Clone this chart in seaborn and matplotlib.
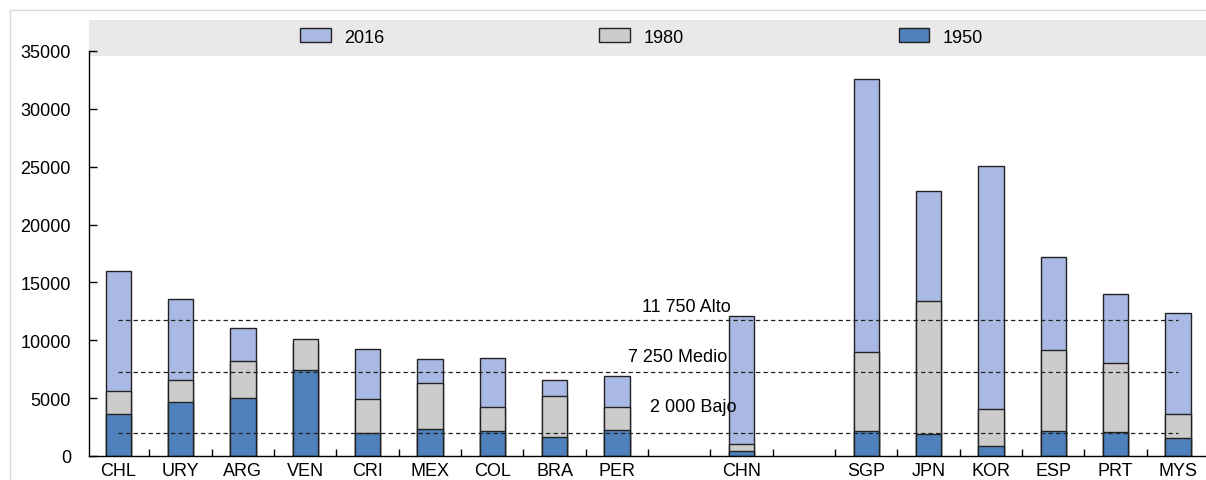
import matplotlib
matplotlib.use("Agg")
import matplotlib.pyplot as plt
import matplotlib.patches as mpatches
import pandas as pd
import seaborn as sns

# categories (empty names are the gaps between groups)
countries = ["CHL", "URY", "ARG", "VEN", "CRI", "MEX", "COL", "BRA", "PER", "",
             "CHN", " ", "SGP", "JPN", "KOR", "ESP", "PRT", "MYS"]
bar_countries = ["CHL", "URY", "ARG", "VEN", "CRI", "MEX", "COL", "BRA", "PER",
                 "CHN", "SGP", "JPN", "KOR", "ESP", "PRT", "MYS"]

# GDP per capita
gdp_2016 = [15950, 13560, 11050, 9800, 9210, 8350, 8460, 6590, 6880,
            12090, 32570, 22900, 25080, 17160, 14020, 12350]
gdp_1980 = [5640, 6540, 8200, 10130, 4900, 6300, 4230, 5180, 4230,
            1010, 8950, 13410, 4090, 9180, 8000, 3650]
gdp_1950 = [3650, 4640, 4980, 7420, 1960, 2330, 2130, 1670, 2270,
            430, 2160, 1900, 840, 2160, 2070, 1530]

thresholds = [11750, 7250, 2000]
threshold_labels = ["11 750 Alto", "7 250 Medio", "2 000 Bajo"]
label_xpos = [9.12, 8.97, 9.23]

years = ["2016", "1980", "1950"]
colors = {"2016": "#a9b9e3", "1980": "#cccccc", "1950": "#4f81bd"}

df = pd.DataFrame({
    "country": bar_countries * 3,
    "year": ["2016"] * 16 + ["1980"] * 16 + ["1950"] * 16,
    "gdp": gdp_2016 + gdp_1980 + gdp_1950,
})

sns.set_style("white")
plt.rcParams["font.family"] = ["Liberation Sans Narrow", "Liberation Sans", "DejaVu Sans"]
plt.rcParams["font.size"] = 13
plt.rcParams["text.color"] = "black"
plt.rcParams["xtick.color"] = "black"
plt.rcParams["ytick.color"] = "black"

fig = plt.figure(figsize=(12.06, 4.81), dpi=100)
ax = fig.add_axes([89 / 1206, 24 / 481, 1117 / 1206, 405 / 481])
ax.patch.set_alpha(0)

# overlapping bars: latest year at the back
for yr in years:
    sns.barplot(data=df[df["year"] == yr], x="country", y="gdp", order=countries,
                color=colors[yr], width=0.41, edgecolor="#222222", linewidth=1,
                saturation=1, ax=ax, zorder=2)

# reference lines
ax.hlines(thresholds, 0, len(countries) - 1, colors="#222222", linewidth=0.9,
          linestyles=(0, (3.5, 2.5)), zorder=4)
offsets = [14, 16, 26]
for t, lab, xp, off in zip(thresholds, threshold_labels, label_xpos, offsets):
    ax.annotate(lab, (xp, t), xytext=(0, off), textcoords="offset pixels",
                ha="center", va="center", fontsize=13, zorder=5)

ax.set_xlim(-0.47, 17.45)
ax.set_ylim(0, 35000)
ax.set_yticks(range(0, 35001, 5000))
ax.set_xlabel("")
ax.set_ylabel("")
ax.set_xticks(range(len(countries)))
ax.set_xticklabels(countries)
ax.set_xticks([i + 0.5 for i in range(len(countries) - 1)], minor=True)
ax.tick_params(axis="x", which="major", length=0, pad=4, labelsize=13)
ax.tick_params(axis="x", which="minor", direction="in", length=5, width=1, color="black", bottom=True)
ax.tick_params(axis="y", direction="in", length=6, width=1, color="black", pad=13, left=True, labelsize=13)
for s in ["top", "right"]:
    ax.spines[s].set_visible(False)
for s in ["left", "bottom"]:
    ax.spines[s].set_color("black")
    ax.spines[s].set_linewidth(1)
ax.grid(False)

# legend band
band = mpatches.Rectangle((89 / 1206, 1 - 57 / 481), 1, 36 / 481, transform=fig.transFigure,
                          facecolor="#e9e9e9", edgecolor="none", zorder=-1)
fig.patches.append(band)
# thin border around the chart
border = mpatches.Rectangle((10 / 1206, -0.1), 1.2, 1.1 - 11 / 481, transform=fig.transFigure,
                            facecolor="none", edgecolor="#d9d9d9", linewidth=1, zorder=-2)
fig.patches.append(border)

handles = [mpatches.Patch(facecolor=colors[y], edgecolor="#222222", linewidth=1) for y in years]
fig.legend(handles, years, loc="center", bbox_to_anchor=(0.532, 1 - 38 / 481), ncol=3,
           frameon=False, handlelength=1.7, handleheight=0.8, handletextpad=0.75,
           columnspacing=11.9, fontsize=13)

fig.savefig("out.png", dpi=100)
